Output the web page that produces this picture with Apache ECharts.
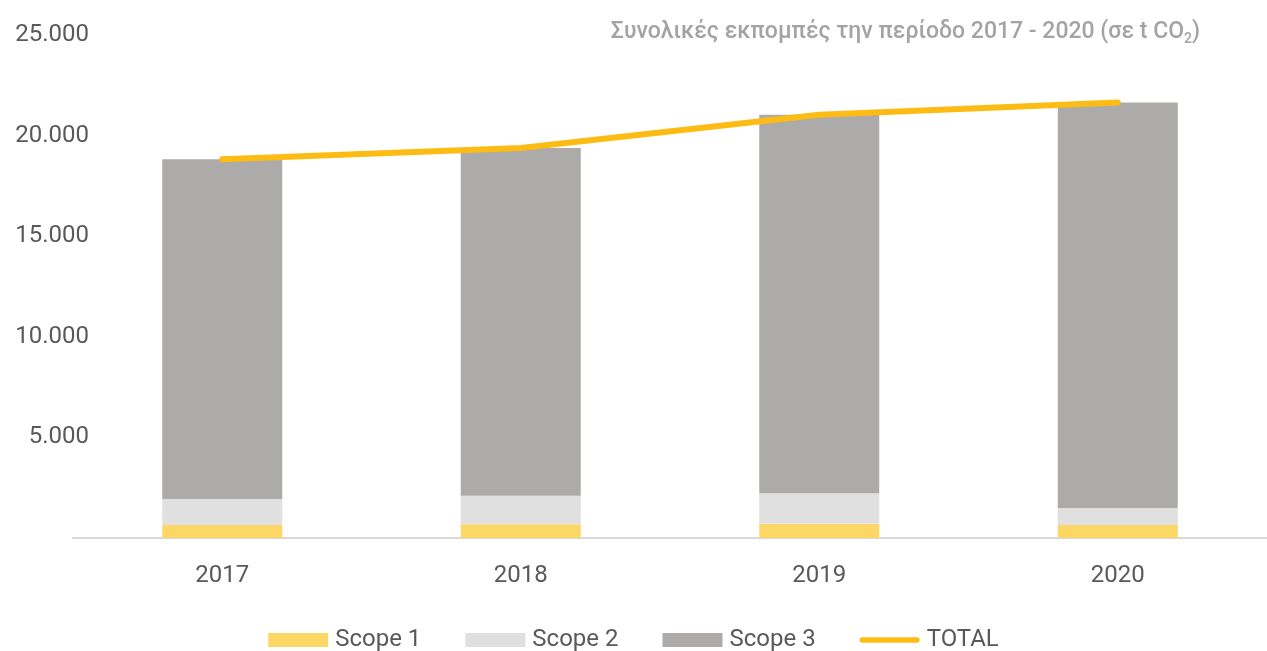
<!DOCTYPE html>
<html>
<head>
<meta charset="utf-8">
<style>
  html, body { margin: 0; padding: 0; background: #ffffff; }
  #chart { width: 1267px; height: 651px; }
</style>
<script src="https://cdn.jsdelivr.net/npm/echarts@6/dist/echarts.min.js"></script>
</head>
<body>
<div id="chart"></div>
<script>
// Emissions per year, in tonnes of CO2
const years = ['2017', '2018', '2019', '2020'];
const scope1 = [650, 680, 710, 645];
const scope2 = [1285, 1420, 1510, 845];
const scope3 = [16885, 17280, 18820, 20160];
const total = [18820, 19380, 21040, 21650];
const yTicks = [0, 5000, 10000, 15000, 20000, 25000];

const chart = echarts.init(document.getElementById('chart'));

// Greek-style thousands separator; the zero tick stays unlabeled
function fmt(v) {
  if (v === 0) return '';
  return String(v).replace(/\B(?=(\d{3})+(?!\d))/g, '.');
}

const labelFont = "Roboto, 'Noto Sans', sans-serif";
const titleFont = "Roboto, 'Noto Sans', sans-serif";

chart.setOption({
  animation: false,
  backgroundColor: '#ffffff',
  title: {
    text: '{t|Συνολικές εκπομπές την περίοδο 2017 - 2020 (σε t CO}{s|2}{t|)}',
    right: 62,
    top: 13,
    textStyle: {
      rich: {
        t: { fontFamily: titleFont, fontWeight: 500, fontSize: 23, color: '#a3a3a3' },
        s: { fontFamily: titleFont, fontWeight: 500, fontSize: 14, color: '#a3a3a3', padding: [14, 0, 0, 0] }
      }
    }
  },
  grid: { left: 73, right: 0, top: 35, bottom: 113 },
  legend: {
    top: 623,
    left: 'center',
    itemGap: 44,
    itemWidth: 60,
    itemHeight: 14,
    textStyle: { fontFamily: labelFont, fontSize: 24, color: '#595959', padding: [0, 0, 0, 2] },
    data: [
      { name: 'Scope 1', icon: 'rect' },
      { name: 'Scope 2', icon: 'rect' },
      { name: 'Scope 3', icon: 'rect' },
      { name: 'TOTAL', icon: 'path://M3,0 L63,0 A3,3 0 0 1 63,6 L3,6 A3,3 0 0 1 3,0 Z', itemStyle: { color: '#fcbc14' } }
    ]
  },
  xAxis: {
    type: 'category',
    data: years,
    axisLine: { lineStyle: { color: '#d9d9d9', width: 2 } },
    axisTick: { show: false },
    axisLabel: { margin: 26, fontFamily: labelFont, fontSize: 24, color: '#595959' }
  },
  yAxis: {
    type: 'value',
    min: yTicks[0],
    max: yTicks[yTicks.length - 1],
    interval: yTicks[1] - yTicks[0],
    splitLine: { show: false },
    axisLine: { show: false },
    axisTick: { show: false },
    axisLabel: { margin: -16, fontFamily: labelFont, fontSize: 24, color: '#595959', formatter: fmt }
  },
  series: [
    { name: 'Scope 1', type: 'bar', stack: 'e', data: scope1, barWidth: 120, itemStyle: { color: '#fdd766' } },
    { name: 'Scope 2', type: 'bar', stack: 'e', data: scope2, itemStyle: { color: '#e0e0e0' } },
    { name: 'Scope 3', type: 'bar', stack: 'e', data: scope3, itemStyle: { color: '#adaba9' } },
    {
      name: 'TOTAL', type: 'line', data: total,
      symbol: 'none', smooth: false,
      lineStyle: { color: '#fcbc14', width: 6, cap: 'round', join: 'round' },
      itemStyle: { color: '#fcbc14' }
    }
  ]
});
</script>
</body>
</html>
